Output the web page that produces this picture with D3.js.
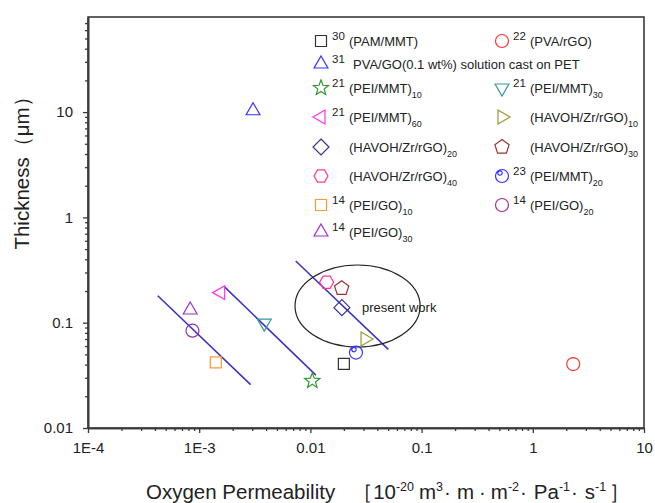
<!DOCTYPE html>
<html lang="en">
<head>
    <meta charset="UTF-8">
    <title>Thickness vs Oxygen Permeability</title>
    <script src="https://cdn.jsdelivr.net/npm/d3@7/dist/d3.min.js"></script>
    <style>
        body { margin: 0; background: #fff; }
        text { font-family: "Liberation Sans", Arial, sans-serif; }
    </style>
</head>
<body>
    <svg class="canvas"></svg>
    <script>
        // ---- data ----
        var labelMain = ['(PAM/MMT)', '(PVA/rGO)', 'PVA/GO(0.1 wt%) solution cast on PET',
                         '(PEI/MMT)', '(PEI/MMT)', '(PEI/MMT)', '(HAVOH/Zr/rGO)', '(HAVOH/Zr/rGO)',
                         '(HAVOH/Zr/rGO)', '(HAVOH/Zr/rGO)', '(PEI/MMT)', '(PEI/GO)', '(PEI/GO)', '(PEI/GO)'];
        var labelSub = ['', '', '', '10', '30', '60', '10', '20', '30', '40', '20', '10', '20', '30'];
        var refNum = ['30', '22', '31', '21', '21', '21', '', '', '', '', '23', '14', '14', '14'];
        var permeability = [0.02, 2.31, 0.00305, 0.0104, 0.00385, 0.00156, 0.031, 0.0192,
                            0.0191, 0.014, 0.0257, 0.00141, 0.00087, 0.00083];
        var thickness = [0.0406, 0.0405, 10.3, 0.028, 0.099, 0.193, 0.070, 0.139,
                         0.212, 0.242, 0.052, 0.042, 0.084, 0.132];

        // trend lines (start / end points)
        var trendStart = [[0.000424, 0.18], [0.00168, 0.22], [0.00738, 0.386]];
        var trendEnd = [[0.0029, 0.0258], [0.0112, 0.0318], [0.0502, 0.0558]];

        // "present work" ellipse bounds and label
        var ellipseX = [0.00727, 0.097], ellipseY = [0.0588, 0.353];
        var noteText = 'present work', noteAt = [0.0291, 0.126];

        var xTicks = [1e-4, 1e-3, 0.01, 0.1, 1, 10];
        var xTickLabels = ['1E-4', '1E-3', '0.01', '0.1', '1', '10'];
        var yTicks = [0.01, 0.1, 1, 10];
        var yTickLabels = ['0.01', '0.1', '1', '10'];

        // legend rows: indices into the series arrays
        var legendRows = [[0, 1], [2], [3, 4], [5, 6], [7, 8], [9, 10], [11, 12], [13]];

        // marker style per series
        var markerStyle = [
            {shape: 'square', color: '#333333'},
            {shape: 'circle', color: '#ff3333'},
            {shape: 'triUp', color: '#3333ff'},
            {shape: 'star', color: '#2f9a2f'},
            {shape: 'triDown', color: '#339999'},
            {shape: 'triLeft', color: '#ff33ee'},
            {shape: 'triRight', color: '#999933'},
            {shape: 'diamond', color: '#333399'},
            {shape: 'pentagon', color: '#993333'},
            {shape: 'hexagon', color: '#ff3399'},
            {shape: 'circleDot', color: '#3333ff'},
            {shape: 'square', color: '#ff9933'},
            {shape: 'circle', color: '#993399'},
            {shape: 'triUp', color: '#9933cc'}
        ];

        var svg_width = 655, svg_height = 503;
        var plotL = 88, plotR = 644, plotT = 17, plotB = 428;

        var svg = d3.select('svg').attr('width', svg_width).attr('height', svg_height);

        var xScale = d3.scaleLog().domain([1e-4, 10]).range([plotL, plotR]);
        var yScale = d3.scaleLog().domain([0.01, 80]).range([plotB, plotT]);

        // minor tick values on log axes
        var minorTicks = function(lo, hi) {
            var out = [];
            for (var e = Math.floor(Math.log10(lo)); e <= Math.ceil(Math.log10(hi)); e++) {
                for (var k = 2; k <= 9; k++) {
                    var v = k * Math.pow(10, e);
                    if (v > lo * 1.0001 && v < hi * 0.9999) out.push(v);
                }
            }
            return out;
        };

        // frame
        svg.append('rect')
            .attr('x', plotL).attr('y', plotT)
            .attr('width', plotR - plotL).attr('height', plotB - plotT)
            .attr('fill', 'none').attr('stroke', '#3a3a3a').attr('stroke-width', 1.6);

        var styleAxis = function(g) {
            g.select('.domain').attr('stroke', '#3a3a3a').attr('stroke-width', 1.6);
            g.selectAll('.tick line').attr('stroke', '#3a3a3a').attr('stroke-width', 1.3);
        };

        // x axis
        svg.append('g').attr('transform', 'translate(0,' + plotB + ')')
            .call(d3.axisBottom(xScale).tickValues(minorTicks(1e-4, 10)).tickSize(3).tickSizeOuter(0).tickFormat(''))
            .call(styleAxis);
        svg.append('g').attr('transform', 'translate(0,' + plotB + ')')
            .call(d3.axisBottom(xScale).tickValues(xTicks).tickSize(5).tickSizeOuter(0).tickPadding(9)
                .tickFormat(function(d, i) { return xTickLabels[i]; }))
            .call(styleAxis)
            .selectAll('text').attr('font-size', 15).attr('fill', '#222')
            .style('font-family', '"Liberation Sans", Arial, sans-serif');

        // y axis
        svg.append('g').attr('transform', 'translate(' + plotL + ',0)')
            .call(d3.axisLeft(yScale).tickValues(minorTicks(0.01, 80)).tickSize(3).tickSizeOuter(0).tickFormat(''))
            .call(styleAxis);
        svg.append('g').attr('transform', 'translate(' + plotL + ',0)')
            .call(d3.axisLeft(yScale).tickValues(yTicks).tickSize(5).tickSizeOuter(0).tickPadding(10)
                .tickFormat(function(d, i) { return yTickLabels[i]; }))
            .call(styleAxis)
            .selectAll('text').attr('font-size', 15).attr('fill', '#222')
            .style('font-family', '"Liberation Sans", Arial, sans-serif');

        // axis titles
        svg.append('text')
            .attr('transform', 'translate(29,168) rotate(-90)')
            .attr('text-anchor', 'middle')
            .attr('font-size', 20.5).attr('fill', '#222')
            .text('Thickness（μm）');

        // x title: flowing tspans, superscripts raised, small extra gaps
        var xt = svg.append('text')
            .attr('x', 146).attr('y', 499)
            .attr('font-size', 20.5).attr('fill', '#222');
        var titleParts = [['Oxygen Permeability', 0, 0], ['［', 0, 17], ['10', 0, 0], ['-20', 1, 0],
                          ['m', 0, 5], ['3', 1, 0], ['·', 0, 1], ['m', 0, 6], ['·', 0, 5],
                          ['m', 0, 5], ['-2', 1, 0], ['·', 0, 1], ['Pa', 0, 7], ['-1', 1, 0],
                          ['·', 0, 1], ['s', 0, 7], ['-1', 1, 0], ['］', 0, 3]];
        var wasSup = false;
        titleParts.forEach(function(p) {
            var ts = xt.append('tspan').attr('dx', p[2]).text(p[0]);
            if (p[1]) {
                ts.attr('font-size', 12.5).attr('dy', wasSup ? 0 : -8);
            } else if (wasSup) {
                ts.attr('dy', 8);
            }
            wasSup = !!p[1];
        });

        // marker shapes
        var polygon = function(n, r, rot) {
            var pts = [];
            for (var i = 0; i < n; i++) {
                var a = rot + i * 2 * Math.PI / n;
                pts.push([r * Math.cos(a), r * Math.sin(a)]);
            }
            return 'M' + pts.map(function(p) { return p[0].toFixed(2) + ',' + p[1].toFixed(2); }).join('L') + 'Z';
        };
        var starPath = function(ro, ri) {
            var pts = [];
            for (var i = 0; i < 10; i++) {
                var a = -Math.PI / 2 + i * Math.PI / 5, r = i % 2 ? ri : ro;
                pts.push([r * Math.cos(a), r * Math.sin(a)]);
            }
            return 'M' + pts.map(function(p) { return p[0].toFixed(2) + ',' + p[1].toFixed(2); }).join('L') + 'Z';
        };
        var circlePath = function(cx, cy, r) {
            return 'M' + (cx - r) + ',' + cy + 'a' + r + ',' + r + ' 0 1,0 ' + (2 * r) + ',0' +
                   'a' + r + ',' + r + ' 0 1,0 ' + (-2 * r) + ',0';
        };
        var markerPath = function(shape) {
            switch (shape) {
                case 'square': return 'M-5.5,-5.5H5.5V5.5H-5.5Z';
                case 'circle': return circlePath(0, 0, 6.5);
                case 'circleDot': return circlePath(0, 0, 6.5) + circlePath(-2, -3, 2.2);
                case 'triUp': return polygon(3, 8, -Math.PI / 2);
                case 'triDown': return polygon(3, 8, Math.PI / 2);
                case 'triLeft': return polygon(3, 8, Math.PI);
                case 'triRight': return polygon(3, 8, 0);
                case 'diamond': return 'M0,-8L8,0L0,8L-8,0Z';
                case 'pentagon': return polygon(5, 7.5, -Math.PI / 2);
                case 'hexagon': return polygon(6, 7, 0);
                case 'star': return starPath(8, 3.4);
            }
        };

        // trend lines
        for (var i = 0; i < trendStart.length; i++) {
            svg.append('line')
                .attr('x1', xScale(trendStart[i][0])).attr('y1', yScale(trendStart[i][1]))
                .attr('x2', xScale(trendEnd[i][0])).attr('y2', yScale(trendEnd[i][1]))
                .attr('stroke', '#3a30c8').attr('stroke-width', 1.5);
        }

        // ellipse + note
        var ex0 = xScale(ellipseX[0]), ex1 = xScale(ellipseX[1]);
        var ey0 = yScale(ellipseY[1]), ey1 = yScale(ellipseY[0]);
        svg.append('ellipse')
            .attr('cx', (ex0 + ex1) / 2).attr('cy', (ey0 + ey1) / 2)
            .attr('rx', (ex1 - ex0) / 2).attr('ry', (ey1 - ey0) / 2)
            .attr('fill', 'none').attr('stroke', '#222').attr('stroke-width', 1.2);
        svg.append('text')
            .attr('x', xScale(noteAt[0])).attr('y', yScale(noteAt[1]))
            .attr('font-size', 13).attr('fill', '#222')
            .text(noteText);

        // data points
        svg.selectAll('path.pt')
            .data(permeability)
            .enter()
            .append('path')
            .attr('class', 'pt')
            .attr('transform', function(d, i) {
                return 'translate(' + xScale(d) + ',' + yScale(thickness[i]) + ')';
            })
            .attr('d', function(d, i) { return markerPath(markerStyle[i].shape); })
            .attr('fill', 'none')
            .attr('stroke', function(d, i) { return markerStyle[i].color; })
            .attr('stroke-width', 1.2);

        // legend
        var rowY = [41, 64, 88, 117, 147, 176, 205, 232];
        var colX = [321, 502], labelX = [349, 530];
        legendRows.forEach(function(row, r) {
            row.forEach(function(idx, c) {
                var y = rowY[r];
                svg.append('path')
                    .attr('transform', 'translate(' + colX[c] + ',' + y + ')')
                    .attr('d', markerPath(markerStyle[idx].shape))
                    .attr('fill', 'none')
                    .attr('stroke', markerStyle[idx].color)
                    .attr('stroke-width', 1.2);
                if (refNum[idx]) {
                    svg.append('text')
                        .attr('x', colX[c] + 11).attr('y', y - 1)
                        .attr('font-size', 11.5).attr('fill', '#222')
                        .text(refNum[idx]);
                }
                var t = svg.append('text')
                    .attr('x', labelX[c] + (idx === 2 ? 4 : 0))
                    .attr('y', y + 5)
                    .attr('font-size', 13).attr('fill', '#222');
                t.append('tspan').text(labelMain[idx]);
                if (labelSub[idx]) {
                    t.append('tspan').attr('font-size', 9).attr('dy', 5).text(labelSub[idx]);
                }
            });
        });
    </script>
</body>
</html>
